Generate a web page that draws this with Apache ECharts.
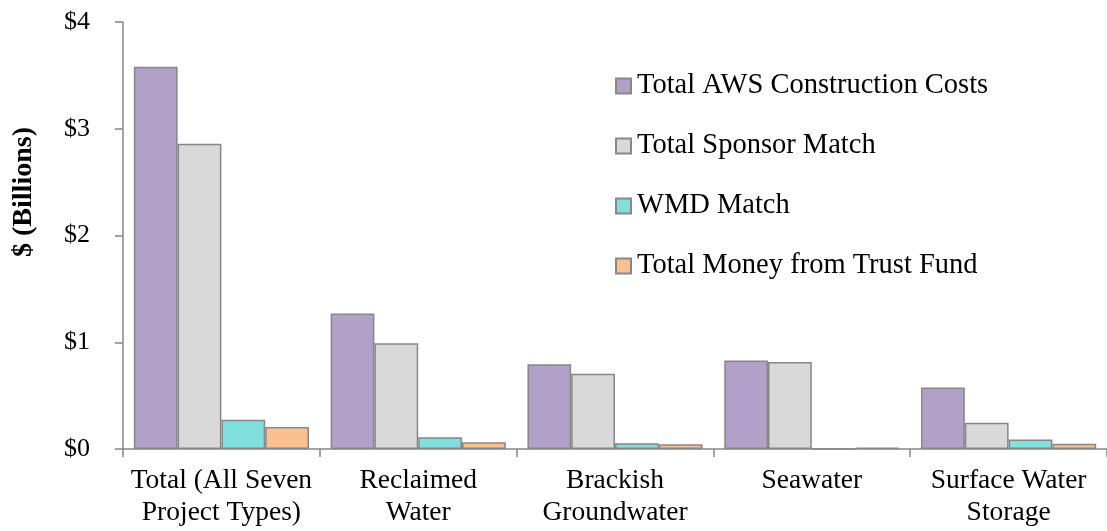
<!DOCTYPE html>
<html><head><meta charset="utf-8">
<script src="https://cdn.jsdelivr.net/npm/echarts@6/dist/echarts.min.js"></script>
<style>html,body{margin:0;padding:0;background:#fff}#c{width:1107px;height:531px}</style>
</head><body><div id="c"></div>
<script>
const categories = ["Total (All Seven\nProject Types)", "Reclaimed\nWater", "Brackish\nGroundwater", "Seawater", "Surface Water\nStorage"];
const seriesNames = ["Total AWS Construction Costs", "Total Sponsor Match", "WMD Match", "Total Money from Trust Fund"];
const awsCosts = [3.58, 1.27, 0.795, 0.83, 0.575];
const sponsorMatch = [2.86, 0.99, 0.705, 0.816, 0.247];
const wmdMatch = [0.275, 0.11, 0.053, 0.002, 0.088];
const trustFund = [0.206, 0.063, 0.044, 0.012, 0.05];
const yTicks = [0, 1, 2, 3, 4];
const colors = ["#b1a0c7", "#d9d9d9", "#7fe0dd", "#fac090"];

const FONT = "Liberation Serif";
const chart = echarts.init(document.getElementById('c'));
const values = [awsCosts, sponsorMatch, wmdMatch, trustFund];
chart.setOption({
  animation: false,
  textStyle: {fontFamily: FONT},
  grid: {left: 123, right: -5, top: 22, bottom: 82, containLabel: false},
  legend: {
    orient: 'vertical', left: 615, top: 71, padding: 0, itemWidth: 15, itemHeight: 15, itemGap: 30,
    icon: 'rect',
    data: seriesNames,
    textStyle: {fontFamily: FONT, fontSize: 28.5, color: '#000', lineHeight: 30, padding: [0,0,0,1]}
  },
  xAxis: {
    type: 'category', data: categories,
    axisLine: {lineStyle: {color: '#868686', width: 1.5}},
    axisTick: {show: true, length: 8, lineStyle: {color: '#868686', width: 1.5}},
    axisLabel: {interval: 0, fontFamily: FONT, fontSize: 27.5, color: '#000', lineHeight: 32, margin: 16}
  },
  yAxis: {
    type: 'value', min: yTicks[0], max: yTicks[yTicks.length-1], interval: 1,
    splitLine: {show: false},
    axisLine: {show: true, lineStyle: {color: '#868686', width: 1.5}},
    axisTick: {show: true, length: 8, lineStyle: {color: '#868686', width: 1.5}},
    axisLabel: {fontFamily: FONT, fontSize: 26, color: '#000', margin: 33, formatter: v => '$' + v}
  },
  graphic: [{
    type: 'text', x: 24, y: 192, rotation: Math.PI/2,
    style: {text: '$ (Billions)', font: 'bold 28px "Liberation Serif"', fill: '#000', textAlign: 'center', textVerticalAlign: 'middle'}
  }],
  series: seriesNames.map((n, i) => ({
    name: n, type: 'bar', data: values[i],
    barGap: '0%', barCategoryGap: '11%',
    itemStyle: {color: colors[i], borderColor: '#878787', borderWidth: 1.5}
  }))
});
</script></body></html>
